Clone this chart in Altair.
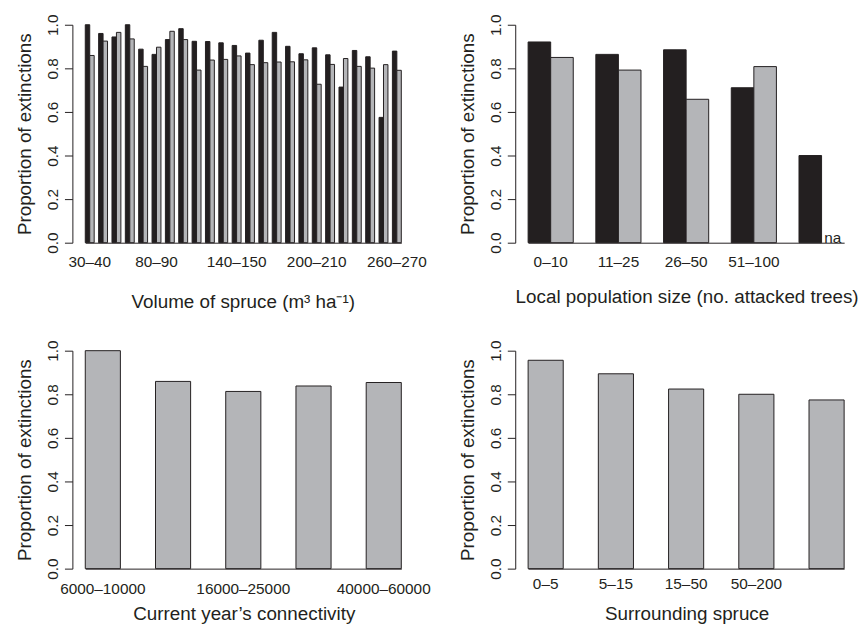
import altair as alt
import pandas as pd

# ---------------- data ----------------
vol_cats = ["30–40", "40–50", "50–60", "60–70", "70–80", "80–90", "90–100", "100–110",
            "110–120", "120–130", "130–140", "140–150", "150–160", "160–170", "170–180",
            "180–190", "190–200", "200–210", "210–220", "220–230", "230–240", "240–250",
            "250–260", "260–270"]
vol_shown = ["30–40", "80–90", "140–150", "200–210", "260–270"]
vol_black = [1.000, 0.960, 0.944, 1.000, 0.888, 0.864, 0.932, 0.982, 0.924, 0.923, 0.917, 0.905,
             0.870, 0.929, 0.965, 0.901, 0.867, 0.894, 0.862, 0.714, 0.882, 0.853, 0.575, 0.879]
vol_gray = [0.859, 0.925, 0.965, 0.935, 0.809, 0.897, 0.970, 0.932, 0.792, 0.838, 0.841, 0.857,
            0.817, 0.826, 0.829, 0.830, 0.839, 0.727, 0.818, 0.845, 0.809, 0.801, 0.817, 0.791]

pop_cats = ["0–10", "11–25", "26–50", "51–100", " "]
pop_black = [0.921, 0.864, 0.885, 0.711, 0.400]
pop_gray = [0.850, 0.792, 0.658, 0.808, None]
pop_na_cat = " "
pop_na_text = "na"

conn_cats = ["6000–10000", " ", "16000–25000", "  ", "40000–60000"]
conn_vals = [1.000, 0.859, 0.813, 0.838, 0.854]

surr_cats = ["0–5", "5–15", "15–50", "50–200", " "]
surr_vals = [0.956, 0.894, 0.824, 0.800, 0.774]

BLACK = "#231f20"
GRAY = "#b4b5b8"
FONT = "Liberation Sans"


def long_df(cats, a, b):
    rows = []
    for c, va, vb in zip(cats, a, b):
        rows.append({"cat": c, "s": "a", "v": va})
        if vb is not None:
            rows.append({"cat": c, "s": "b", "v": vb})
    return pd.DataFrame(rows)


def y_axis(offset):
    return alt.Axis(values=[0, 0.2, 0.4, 0.6, 0.8, 1.0], format=".1f",
                    title="Proportion of extinctions", offset=offset,
                    labelAngle=270, labelAlign="center", labelBaseline="alphabetic",
                    labelPadding=7, tickSize=8, grid=False,
                    titleAngle=270, titleX=-42, titleY=110, titleAlign="center",
                    titleBaseline="alphabetic")


def y_enc(offset):
    return alt.Y("v:Q", scale=alt.Scale(domain=[0, 1], nice=False, zero=True),
                 axis=y_axis(offset))


def x_axis(title, lpad, ty, tx, label_expr=None):
    kw = dict(title=title, labelAngle=0, ticks=False, tickSize=0, labelPadding=lpad,
              labelBaseline="top", titleY=ty, titleX=tx, titleAlign="center",
              titleBaseline="alphabetic", grid=False)
    if label_expr is not None:
        kw["labelExpr"] = label_expr
    return alt.Axis(**kw)


def off_scale(span, n):
    band = span / (n - 1 / 3) * (2 / 3)
    return alt.Scale(domain=["a", "b"], paddingInner=0, paddingOuter=0, range=[0, band])


col_scale = alt.Scale(domain=["a", "b"], range=[BLACK, GRAY])

# ---- panel 1: volume of spruce ----
d1 = long_df(vol_cats, vol_black, vol_gray)
off1 = off_scale(319, len(vol_cats))
shown_js = "[" + ",".join("'" + s + "'" for s in vol_shown) + "]"
p1 = alt.Chart(d1).mark_bar(stroke=BLACK, strokeWidth=1).encode(
    x=alt.X("cat:N", sort=vol_cats,
            scale=alt.Scale(paddingInner=1 / 3, paddingOuter=0, range=[23, 342]),
            axis=x_axis("Volume of spruce (m³ ha⁻¹)", 12, 65, 182,
                        "indexof(" + shown_js + ", datum.value) >= 0 ? datum.value : ''")),
    xOffset=alt.XOffset("s:N", scale=off1),
    y=y_enc(-10),
    color=alt.Color("s:N", scale=col_scale, legend=None),
).properties(width=355, height=220)

# ---- panel 2: local population size ----
d2 = long_df(pop_cats, pop_black, pop_gray)
d2na = pd.DataFrame([{"cat": pop_na_cat, "s": "b", "v": 0.0, "t": pop_na_text}])
off2 = off_scale(319, len(pop_cats))
x2 = alt.X("cat:N", sort=pop_cats,
           scale=alt.Scale(paddingInner=1 / 3, paddingOuter=0, range=[13, 332]),
           axis=x_axis("Local population size (no. attacked trees)", 12, 60, 173))
bars2 = alt.Chart(d2).mark_bar(stroke=BLACK, strokeWidth=1).encode(
    x=x2, xOffset=alt.XOffset("s:N", scale=off2), y=y_enc(0),
    color=alt.Color("s:N", scale=col_scale, legend=None),
)
na2 = alt.Chart(d2na).mark_text(font=FONT, fontSize=15.5, color=BLACK,
                                align="center", baseline="alphabetic").encode(
    x=x2, xOffset=alt.XOffset("s:N", scale=off2), y=y_enc(0), text="t:N",
)
p2 = alt.layer(bars2, na2).properties(width=346, height=220)

# ---- panel 3: connectivity ----
d3 = pd.DataFrame({"cat": conn_cats, "v": conn_vals})
p3 = alt.Chart(d3).mark_bar(stroke=BLACK, strokeWidth=1, color=GRAY).encode(
    x=alt.X("cat:N", sort=conn_cats,
            scale=alt.Scale(paddingInner=0.5, paddingOuter=0, range=[23, 342]),
            axis=x_axis("Current year’s connectivity", 13, 51, 183)),
    y=y_enc(-10),
).properties(width=355, height=220)

# ---- panel 4: surrounding spruce ----
d4 = pd.DataFrame({"cat": surr_cats, "v": surr_vals})
p4 = alt.Chart(d4).mark_bar(stroke=BLACK, strokeWidth=1, color=GRAY).encode(
    x=alt.X("cat:N", sort=surr_cats,
            scale=alt.Scale(paddingInner=0.5, paddingOuter=0, range=[13, 332]),
            axis=x_axis("Surrounding spruce", 8, 51, 173)),
    y=y_enc(0),
).properties(width=346, height=220)

chart = alt.concat(p1, p2, p3, p4, columns=2, spacing={"row": 109, "column": 102},
                   bounds="flush").resolve_scale(
    x="independent", y="independent", xOffset="independent", color="independent"
).properties(
    padding={"left": 7, "top": 3, "right": 0, "bottom": 0}
).configure_axis(
    labelFont=FONT, labelFontSize=15.5, labelColor=BLACK,
    titleFont=FONT, titleFontSize=19, titleColor=BLACK, titleFontWeight="normal",
    domainColor=BLACK, domainWidth=1, tickColor=BLACK, tickWidth=1,
).configure_view(stroke=None)

chart.save("out.html", embed_options={"renderer": "svg", "actions": False})
